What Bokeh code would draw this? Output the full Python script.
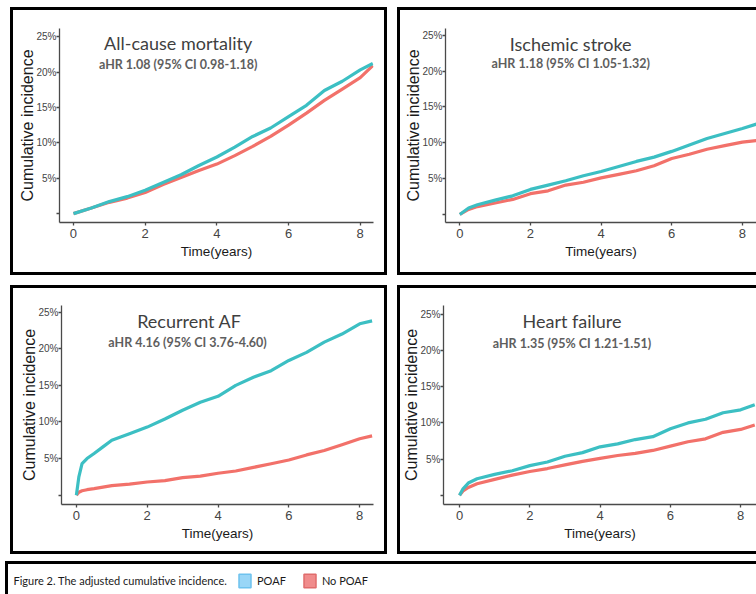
from bokeh.plotting import figure
from bokeh.models import Range1d, FixedTicker, Label, Legend, LegendItem
from bokeh.layouts import row, column
from bokeh.embed import file_html
from bokeh.resources import INLINE

# ---------------- data ----------------
x_ticks = [0, 2, 4, 6, 8]
y_ticks = [0, 5, 10, 15, 20, 25]
y_tick_labels = ["", "5%", "10%", "15%", "20%", "25%"]

series_names = ["POAF", "No POAF"]

# All-cause mortality
mort_title = "All-cause mortality"
mort_hr = "aHR 1.08 (95% CI 0.98-1.18)"
mort_t = [0, 0.5, 1, 1.5, 2, 2.5, 3, 3.5, 4, 4.5, 5, 5.5, 6, 6.5, 7, 7.5, 8, 8.35]
mort_poaf = [0, 0.8, 1.7, 2.4, 3.3, 4.4, 5.5, 6.8, 8.0, 9.4, 10.9, 12.1, 13.7, 15.3, 17.4, 18.7, 20.3, 21.2]
mort_nopoaf = [0, 0.8, 1.6, 2.2, 3.0, 4.1, 5.1, 6.1, 7.0, 8.2, 9.5, 10.9, 12.5, 14.2, 16.0, 17.6, 19.2, 20.9]

# Ischemic stroke
str_title = "Ischemic stroke"
str_hr = "aHR 1.18 (95% CI 1.05-1.32)"
str_t = [0, 0.25, 0.5, 1, 1.5, 2, 2.5, 3, 3.5, 4, 4.5, 5, 5.5, 6, 6.5, 7, 7.5, 8, 8.4]
str_poaf = [0, 0.9, 1.35, 2.0, 2.6, 3.5, 4.1, 4.7, 5.4, 6.0, 6.7, 7.4, 8.0, 8.8, 9.7, 10.6, 11.3, 12.0, 12.6]
str_nopoaf = [0, 0.7, 1.1, 1.6, 2.1, 2.9, 3.3, 4.1, 4.5, 5.1, 5.6, 6.1, 6.8, 7.8, 8.4, 9.1, 9.6, 10.1, 10.3]

# Recurrent AF
af_title = "Recurrent AF"
af_hr = "aHR 4.16 (95% CI 3.76-4.60)"
af_t = [0, 0.07, 0.16, 0.3, 0.5, 0.75, 1, 1.5, 2, 2.5, 3, 3.5, 4, 4.5, 5, 5.5, 6, 6.5, 7, 7.5, 8, 8.35]
af_poaf = [0, 2.5, 4.3, 5.0, 5.7, 6.6, 7.5, 8.4, 9.3, 10.4, 11.6, 12.7, 13.5, 15.0, 16.1, 17.0, 18.4, 19.5, 20.9, 22.0, 23.4, 23.8]
af_nopoaf = [0, 0.4, 0.6, 0.75, 0.9, 1.1, 1.3, 1.5, 1.8, 2.0, 2.4, 2.6, 3.0, 3.3, 3.8, 4.3, 4.8, 5.5, 6.1, 6.9, 7.7, 8.1]

# Heart failure
hf_title = "Heart failure"
hf_hr = "aHR 1.35 (95% CI 1.21-1.51)"
hf_t = [0, 0.1, 0.25, 0.5, 1, 1.5, 2, 2.5, 3, 3.5, 4, 4.5, 5, 5.5, 6, 6.5, 7, 7.5, 8, 8.4]
hf_poaf = [0, 0.9, 1.7, 2.3, 2.9, 3.4, 4.1, 4.6, 5.4, 5.9, 6.7, 7.1, 7.7, 8.1, 9.2, 10.0, 10.5, 11.4, 11.8, 12.5]
hf_nopoaf = [0, 0.6, 1.1, 1.6, 2.2, 2.8, 3.3, 3.7, 4.2, 4.7, 5.1, 5.5, 5.8, 6.2, 6.8, 7.4, 7.8, 8.7, 9.1, 9.7]

caption_text = "Figure 2.  The adjusted cumulative incidence."
x_label = "Time(years)"
y_label = "Cumulative incidence"

# ---------------- style ----------------
TEAL = "#3cbfc3"
RED = "#f2716a"
AXIS = "#4a4a4a"
TITLE_FONT = "Lato"
AX_FONT = "Liberation Sans"
BW = 3
BORDER = f"{BW}px solid black"


def panel(t, poaf, nopoaf, title, hr, w, h, xr, yr, mb, tpos, right_border=True, margin=None):
    p = figure(width=w, height=h, output_backend="svg", toolbar_location=None,
               x_range=Range1d(*xr), y_range=Range1d(*yr),
               min_border_left=mb[0], min_border_top=mb[1],
               min_border_right=mb[2], min_border_bottom=mb[3])
    st = {"border-top": BORDER, "border-left": BORDER, "border-bottom": BORDER}
    if right_border:
        st["border-right"] = BORDER
    p.styles = st
    if margin is not None:
        p.margin = margin
    p.outline_line_color = None
    p.grid.visible = False
    p.background_fill_color = "white"
    p.border_fill_color = "white"

    p.line(t, nopoaf, color=RED, line_width=3.2)
    p.line(t, poaf, color=TEAL, line_width=3.2)

    p.xaxis.ticker = FixedTicker(ticks=x_ticks)
    p.yaxis.ticker = FixedTicker(ticks=y_ticks)
    p.yaxis.major_label_overrides = {k: v for k, v in zip(y_ticks, y_tick_labels)}
    for ax in (p.xaxis[0], p.yaxis[0]):
        ax.axis_line_color = AXIS
        ax.axis_line_width = 1.3
        ax.major_tick_line_color = AXIS
        ax.major_tick_line_width = 1.3
        ax.major_tick_in = 0
        ax.major_tick_out = 3
        ax.minor_tick_line_color = None
        ax.major_label_text_color = "#444444"
        ax.axis_label_text_color = "#1a1a1a"
        ax.axis_label_text_font_style = "normal"
    p.xaxis.major_label_text_font = AX_FONT
    p.xaxis.major_label_text_font_size = "13px"
    p.xaxis.major_label_standoff = 3
    p.xaxis.axis_label = x_label
    p.xaxis.axis_label_text_font = AX_FONT
    p.xaxis.axis_label_text_font_size = "13.5px"
    p.xaxis.axis_label_standoff = 3
    p.yaxis.major_label_text_font = AX_FONT
    p.yaxis.major_label_text_font_size = "10px"
    p.yaxis.major_label_standoff = 0
    p.yaxis.axis_label = y_label
    p.yaxis.axis_label_text_font = AX_FONT
    p.yaxis.axis_label_text_font_size = "16px"
    p.yaxis.axis_label_standoff = -3

    p.add_layout(Label(x=tpos[0], y=tpos[1], text=title, text_align="center",
                       text_baseline="middle", text_font=TITLE_FONT,
                       text_font_size="18px", text_color="#3f3f3f"))
    p.add_layout(Label(x=tpos[2], y=tpos[3], text=hr, text_align="center",
                       text_baseline="middle", text_font=TITLE_FONT, text_font_style="bold",
                       text_font_size="12.5px", text_color="#5e5e5e"))
    return p


# (the canvas keeps the full width/height and starts inside the CSS border)
p1 = panel(mort_t, mort_poaf, mort_nopoaf, mort_title, mort_hr, 377, 268,
           (-0.39, 8.37), (-1.25, 26.15), (46, 15, 17, 55), (2.92, 24.1, 2.92, 21.0),
           margin=(7, 0, 0, 10))
p2 = panel(str_t, str_poaf, str_nopoaf, str_title, str_hr, 359, 268,
           (-0.405, 8.4), (-1.12, 25.94), (45, 18, 3, 56), (3.14, 23.8, 3.14, 21.0),
           right_border=False, margin=(7, 0, 0, 10))
p3 = panel(af_t, af_poaf, af_nopoaf, af_title, af_hr, 377, 269,
           (-0.42, 8.39), (-1.27, 25.9), (48, 17, 17, 53), (3.19, 23.8, 3.14, 20.9),
           margin=(10, 0, 0, 10))
p4 = panel(hf_t, hf_poaf, hf_nopoaf, hf_title, hf_hr, 359, 269,
           (-0.456, 8.45), (-1.26, 26.2), (43, 15, 3, 51), (3.2, 24.0, 3.2, 21.0),
           right_border=False, margin=(10, 0, 0, 10))

# caption box with legend
CAP_W, CAP_H = 751, 33
cap = figure(width=CAP_W, height=CAP_H, output_backend="svg", toolbar_location=None,
             x_range=Range1d(0, CAP_W), y_range=Range1d(0, CAP_H),
             x_axis_type=None, y_axis_type=None, min_border=0)
cap.styles = {"border-top": BORDER, "border-left": BORDER}
cap.margin = (7, 0, 0, 5)
cap.outline_line_color = None
cap.grid.visible = False
cap.add_layout(Label(x=5, y=17, text=caption_text, text_align="left", text_baseline="middle",
                     text_font=TITLE_FONT, text_font_size="11px", text_color="#1a1a1a"))
nan = float("nan")
r_poaf = cap.quad(left=[nan], right=[nan], top=[nan], bottom=[nan],
                  fill_color="#99d6f7", line_color="#6ec2ee", line_width=1.5)
r_no = cap.quad(left=[nan], right=[nan], top=[nan], bottom=[nan],
                fill_color="#f08c8c", line_color="#e06c6c", line_width=1.5)
leg = Legend(items=[LegendItem(label=series_names[0], renderers=[r_poaf]),
                    LegendItem(label=series_names[1], renderers=[r_no])],
             orientation="horizontal", location=(229, 8), padding=0, margin=0,
             spacing=16, glyph_width=15, glyph_height=17, label_standoff=5,
             label_height=17,
             label_text_font=TITLE_FONT, label_text_font_size="11px",
             label_text_color="#1a1a1a", border_line_alpha=0, background_fill_alpha=0)
cap.add_layout(leg)

layout = column(row(p1, p2, spacing=0), row(p3, p4, spacing=0), cap, spacing=0)

open("out.html", "w").write(file_html(layout, INLINE))
